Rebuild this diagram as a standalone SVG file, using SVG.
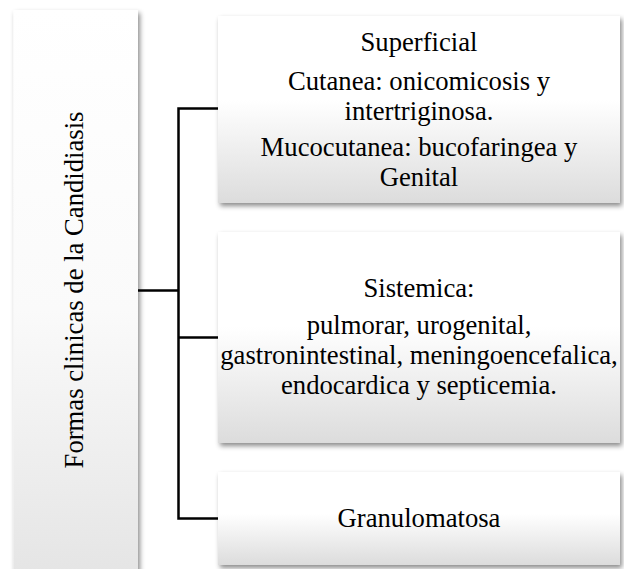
<svg xmlns="http://www.w3.org/2000/svg" width="624" height="569" viewBox="0 0 624 569">
  <defs>
    <linearGradient id="gBox" x1="0" y1="0" x2="0" y2="1">
      <stop offset="0" stop-color="#ffffff"/>
      <stop offset="0.45" stop-color="#ffffff"/>
      <stop offset="1" stop-color="#dcdcdc"/>
    </linearGradient>
    <linearGradient id="gLeft" x1="0" y1="0" x2="0" y2="1">
      <stop offset="0" stop-color="#ffffff"/>
      <stop offset="0.5" stop-color="#fafafa"/>
      <stop offset="1" stop-color="#e2e2e2"/>
    </linearGradient>
    <filter id="shadow" x="-10%" y="-10%" width="120%" height="125%">
      <feDropShadow dx="2" dy="3" stdDeviation="2.5" flood-color="#000" flood-opacity="0.45"/>
    </filter>
  </defs>
  <style>
    .box { stroke: none; filter: url(#shadow); }
    .t { font-family: "Liberation Serif", "Times New Roman", serif; font-size: 26.67px; fill: #000; text-anchor: middle; }
    .conn { fill: none; stroke: #000; stroke-width: 2.5; stroke-linejoin: miter; stroke-linecap: butt; }
  </style>
  <rect width="624" height="569" fill="#ffffff"/>

  <g id="connectors">
    <path class="conn" d="M138,290.5 H178.5"/>
    <path class="conn" d="M218,108.5 H178.5 V518.5 H218"/>
    <path class="conn" d="M178.5,337.5 H218"/>
  </g>

  <g id="node-root">
    <rect class="box" x="13.5" y="10" width="124.5" height="600" fill="url(#gLeft)"/>
    <text class="t" transform="translate(83,290) rotate(-90)" x="0" y="0">Formas clinicas de la Candidiasis</text>
  </g>

  <g id="node-superficial">
    <rect class="box" x="218" y="16" width="402" height="187" fill="url(#gBox)"/>
    <text class="t" x="419" y="51">Superficial</text>
    <text class="t"><tspan x="419" y="89.5">Cutanea: onicomicosis y</tspan><tspan x="419" y="119.5">intertriginosa.</tspan></text>
    <text class="t"><tspan x="419" y="156">Mucocutanea: bucofaringea y</tspan><tspan x="419" y="186">Genital</tspan></text>
  </g>

  <g id="node-sistemica">
    <rect class="box" x="218" y="232" width="402" height="211" fill="url(#gBox)"/>
    <text class="t" x="419" y="297">Sistemica:</text>
    <text class="t"><tspan x="419" y="334">pulmorar, urogenital,</tspan><tspan x="419" y="364">gastronintestinal, meningoencefalica,</tspan><tspan x="419" y="394">endocardica y septicemia.</tspan></text>
  </g>

  <g id="node-granulomatosa">
    <rect class="box" x="218" y="472" width="402" height="93" fill="url(#gBox)"/>
    <text class="t" x="419" y="527">Granulomatosa</text>
  </g>
</svg>
